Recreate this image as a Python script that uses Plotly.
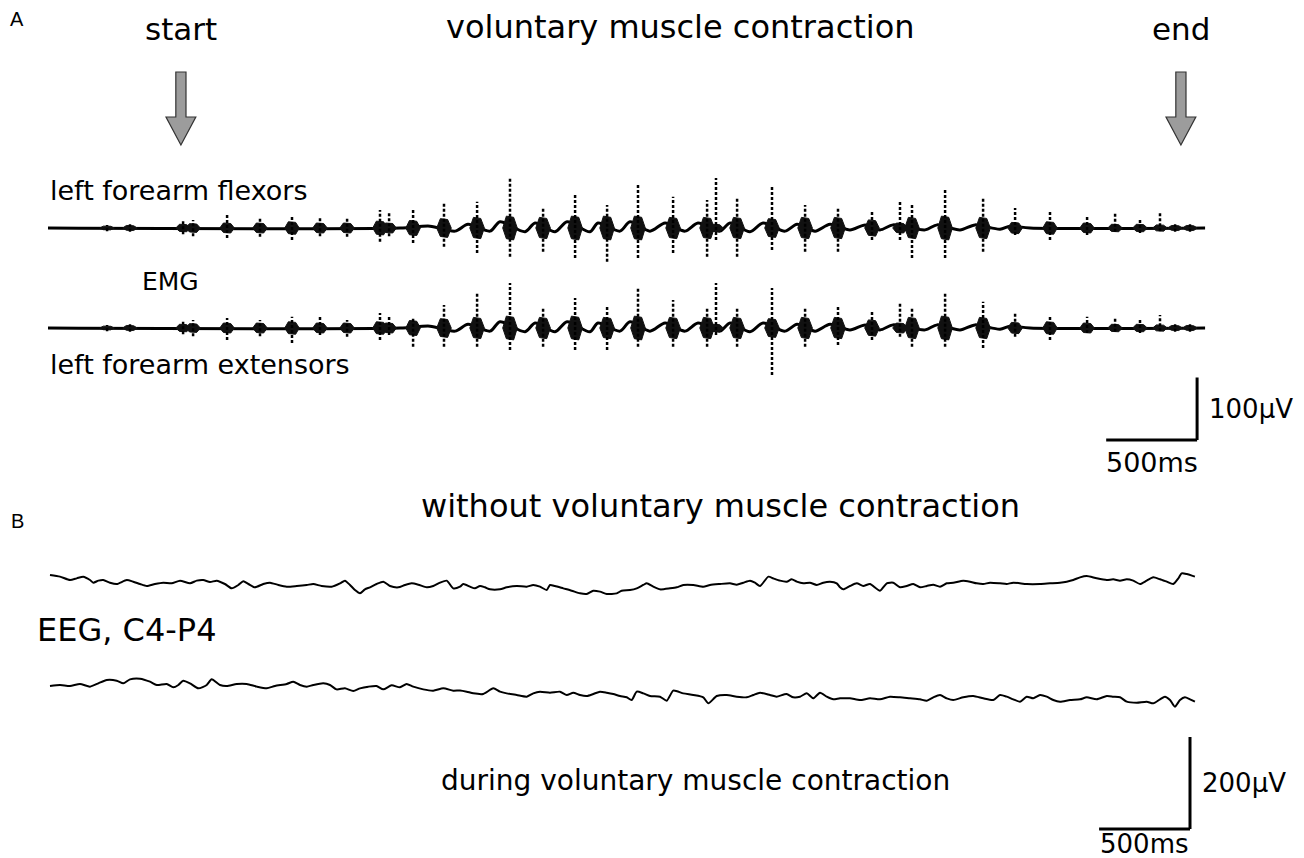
import plotly.graph_objects as go

W, H = 1304, 858
OFF = 8  # page body margin in the browser
FW, FH = W - OFF, H - OFF

# ---------------- data ----------------
# EMG bursts: time (ms) and peak extents (µV) relative to baseline
burst_t = [325, 451, 743, 798, 985, 1166, 1342, 1496, 1645, 1826, 1876, 2008, 2178, 2360,
           2541, 2723, 2899, 3075, 3245, 3438, 3625, 3674, 3790, 3982, 4164, 4345, 4532,
           4686, 4752, 4934, 5143, 5319, 5511, 5715, 5869, 6006, 6116, 6199, 6281]
flex_up = [5, 6, 11, 13, 21, 18, 18, 18, 18, 29, 26, 32, 40, 42, 80, 34, 53, 37, 69, 50,
           45, 80, 48, 69, 37, 34, 29, 45, 37, 64, 48, 32, 26, 21, 24, 16, 24, 6, 6]
flex_down = [-5, -6, -10, -13, -16, -14, -19, -13, -14, -22, -13, -24, -30, -40, -46, -38,
             -48, -54, -48, -40, -46, -19, -46, -35, -38, -38, -19, -19, -48, -48, -38, -11,
             -19, -11, -6, -8, -5, -6, -6]
flex_core = [3, 4, 6, 7, 8, 8, 10, 8, 8, 11, 8, 12, 15, 17, 19, 17, 19, 19, 19, 17, 17, 6,
             17, 15, 17, 17, 13, 8, 17, 19, 17, 9, 10, 8, 6, 6, 5, 4, 4]
ext_up = [5, 6, 10, 13, 16, 13, 18, 18, 13, 24, 21, 18, 37, 56, 72, 34, 48, 34, 64, 45,
          34, 72, 34, 64, 32, 34, 26, 40, 34, 56, 42, 26, 21, 18, 18, 13, 21, 6, 6]
ext_down = [-5, -6, -10, -13, -19, -13, -24, -11, -14, -19, -11, -30, -30, -30, -35, -30,
            -35, -35, -30, -30, -30, -11, -30, -75, -30, -27, -19, -14, -30, -30, -32, -14,
            -19, -8, -6, -8, -5, -6, -6]
ext_core = [3, 4, 6, 7, 8, 8, 10, 8, 8, 10, 8, 12, 15, 17, 19, 17, 19, 17, 19, 17, 17, 6,
            17, 15, 17, 17, 13, 8, 17, 19, 17, 9, 10, 8, 6, 6, 5, 4, 4]

# EMG slow baseline wave (ms, µV)
wave_t = [0, 1936, 2101, 2239, 2310, 2431, 2486, 2624, 2679, 2789, 2855, 2981, 3025, 3146,
          3201, 3311, 3394, 3504, 3575, 3696, 3751, 3861, 3933, 4054, 4120, 4219, 4301,
          4411, 4494, 4576, 4648, 4824, 4890, 5016, 5099, 5236, 5291, 5401, 6364]
wave_v = [0, 0, 3, -5, 6, -5, 10, -6, 8, -6, 10, -6, 8, -5, 10, -5, 8, -5, 8, -5, 8, -6,
          8, -5, 6, -5, 6, -3, 5, -3, 5, -3, 5, -3, 5, -2, 3, 0, 0]

# EEG C4-P4 without voluntary contraction (ms, µV)
eeg_rest_t = [11, 66, 121, 158, 194, 231, 249, 277, 304, 341, 378, 433, 469, 506, 543, 588,
              634, 680, 726, 781, 818, 854, 891, 928, 973, 1010, 1047, 1074, 1102, 1138,
              1184, 1221, 1267, 1313, 1368, 1423, 1459, 1505, 1560, 1606, 1633, 1661, 1688,
              1716, 1743, 1771, 1807, 1844, 1881, 1927, 1963, 2000, 2037, 2083, 2119, 2156,
              2193, 2229, 2266, 2284, 2321, 2348, 2376, 2403, 2431, 2486, 2523, 2578, 2633,
              2669, 2706, 2743, 2761, 2788, 2834, 2880, 2926, 2963, 2999, 3036, 3073, 3128,
              3155, 3201, 3238, 3274, 3293, 3329, 3366, 3421, 3458, 3494, 3549, 3604, 3641,
              3696, 3751, 3788, 3824, 3861, 3888, 3916, 3962, 3989, 4026, 4063, 4090, 4118,
              4154, 4191, 4228, 4264, 4301, 4338, 4356, 4374, 4411, 4448, 4484, 4521, 4576,
              4613, 4649, 4686, 4723, 4759, 4796, 4833, 4869, 4906, 4943, 4979, 5034, 5071,
              5108, 5144, 5181, 5236, 5273, 5309, 5383, 5456, 5511, 5566, 5603, 5639, 5676,
              5713, 5768, 5823, 5859, 5896, 5933, 5969, 6006, 6043, 6079, 6116, 6153, 6189,
              6217, 6235, 6263, 6308]
eeg_rest_v = [17.4, 13.8, 6.5, 10.1, 13.8, 6.5, 0.7, 5.1, 6.5, 0.7, -2.2, 6.5, 2.9, -2.2,
              -6.5, -2.2, 0.7, -0.7, 5.1, -0.7, 5.1, 6.5, 2.2, 5.1, -2.2, -11.6, -4.3, 3.6,
              -2.2, -9.4, -2.2, 0.7, -4.3, -8.0, -6.5, -4.3, -2.2, -6.5, -8.0, -0.7, 5.1,
              -4.3, -15.2, -22.5, -13.8, -9.4, -2.2, 2.9, -6.5, -9.4, -4.3, -0.7, -3.6, -9.4,
              -6.5, 0.7, 5.1, -11.6, -8.0, -2.2, -8.0, -11.6, -6.5, -9.4, -13.8, -13.8, -9.4,
              -6.5, -8.0, -4.3, -8.0, -15.2, -4.3, -6.5, -11.6, -16.7, -22.5, -23.9, -16.7,
              -18.8, -23.9, -22.5, -16.7, -15.2, -11.6, -4.3, -0.7, -8.0, -13.8, -11.6, -9.4,
              -4.3, -4.3, -8.0, -4.3, -2.2, -0.7, -3.6, 0.7, 5.1, 0.7, -6.5, 13.8, 10.1, 5.1,
              2.9, 8.0, 2.9, -0.7, 0.7, -4.3, 0.7, 2.9, -0.7, -9.4, -13.8, -6.5, -0.7, -6.5,
              -2.2, -16.7, -0.7, 0.7, -9.4, -6.5, -2.2, -9.4, -6.5, -3.6, -8.0, -0.7, 0.7,
              5.1, 2.9, -0.7, -2.2, 0.7, -0.7, -2.2, 0.7, -2.2, -2.2, -0.7, 0.7, 2.9, 6.5,
              12.3, 15.2, 10.1, 6.5, 8.0, 5.1, 8.0, 5.1, -2.2, 5.1, 12.3, 8.0, 2.9, -2.2,
              10.1, 21.0, 19.6, 13.8]

# EEG C4-P4 during voluntary contraction (ms, µV)
eeg_task_t = [11, 66, 121, 176, 231, 277, 323, 378, 414, 451, 506, 561, 598, 653, 689, 717,
              744, 781, 827, 873, 900, 946, 983, 1038, 1093, 1148, 1203, 1248, 1313, 1349,
              1386, 1423, 1459, 1514, 1551, 1587, 1633, 1679, 1716, 1762, 1807, 1844, 1890,
              1936, 1972, 2009, 2064, 2119, 2174, 2229, 2266, 2303, 2339, 2394, 2449, 2486,
              2523, 2578, 2633, 2669, 2706, 2761, 2816, 2853, 2889, 2926, 2963, 2999, 3036,
              3073, 3109, 3146, 3183, 3210, 3238, 3274, 3311, 3366, 3403, 3439, 3494, 3549,
              3604, 3632, 3678, 3733, 3788, 3843, 3879, 3916, 3971, 4007, 4062, 4099, 4136,
              4173, 4209, 4246, 4283, 4319, 4356, 4411, 4466, 4521, 4576, 4631, 4686, 4741,
              4796, 4833, 4869, 4906, 4943, 4979, 5034, 5089, 5144, 5199, 5236, 5273, 5309,
              5346, 5383, 5419, 5456, 5493, 5529, 5566, 5621, 5676, 5713, 5768, 5823, 5859,
              5896, 5933, 5988, 6043, 6079, 6116, 6143, 6171, 6198, 6226, 6253, 6281, 6308]
eeg_task_v = [8.7, 10.9, 8.7, 13.1, 7.3, 14.5, 21.8, 20.3, 14.5, 23.2, 24.7, 18.1, 10.9,
              13.1, 5.8, 10.9, 20.3, 14.5, 3.6, 10.9, 23.2, 10.9, 8.7, 13.1, 13.1, 7.3, 3.6,
              8.7, 13.1, 18.1, 10.9, 7.3, 10.9, 14.5, 10.9, 1.4, 3.6, -2.2, 3.6, 7.3, 8.7,
              1.4, 10.1, 5.8, 13.1, 7.3, 1.4, -1.4, 3.6, -1.4, -1.0, -3.6, -7.3, -8.7, 3.6,
              -3.6, -7.3, -10.9, -14.5, -7.3, -3.6, -5.8, -3.6, -10.9, -5.8, -10.9, -13.1,
              -8.7, -3.6, -5.8, -8.7, -13.1, -15.9, -21.8, -3.6, -7.3, -13.1, -14.5, -23.2,
              -1.4, -7.3, -10.9, -15.9, -29.0, -13.1, -10.9, -14.5, -15.9, -10.9, -5.8,
              -10.9, -14.5, -8.7, -15.9, -14.5, -7.3, -18.1, -5.8, -14.5, -20.3, -18.1,
              -18.1, -21.8, -18.1, -20.3, -14.5, -15.9, -18.1, -20.3, -23.2, -15.9, -10.9,
              -18.1, -21.8, -15.9, -13.1, -18.1, -21.8, -10.9, -14.5, -20.3, -25.4, -14.5,
              -18.1, -10.9, -14.5, -21.8, -25.4, -21.8, -20.3, -15.9, -20.3, -13.1, -14.5,
              -15.9, -25.4, -27.6, -25.4, -29.0, -20.3, -14.5, -21.8, -36.3, -21.8, -15.9,
              -20.3, -25.4]

event_labels = ["start", "end"]
event_t = [731, 6231]

emg_bar_uv, eeg_bar_uv, bar_ms = 100, 200, 500

# ---------------- geometry (layout only) ----------------
MS_PER_PX = 5.5
X0_PX = 48                       # screen px of t = 0
x_range = [(OFF - X0_PX) * MS_PER_PX, (W - X0_PX) * MS_PER_PX]

SPLIT_PX = 470
EMG_UV_PER_PX = 1.6
EEG_UV_PER_PX = 2.174
EMG_BASE_PX = 228
EEG_BASE_PX = 583
y1_range = [(EMG_BASE_PX - SPLIT_PX) * EMG_UV_PER_PX, (EMG_BASE_PX - OFF) * EMG_UV_PER_PX]
y2_range = [(EEG_BASE_PX - H) * EEG_UV_PER_PX, (EEG_BASE_PX - SPLIT_PX) * EEG_UV_PER_PX]
ext_offset = -100 * EMG_UV_PER_PX
task_offset = -107 * EEG_UV_PER_PX


def px(xp, yp):
    return (xp - OFF) / FW, 1 - (yp - OFF) / FH


fig = go.Figure()
BURST_W = 80


def emg_traces(offset, up, down, core):
    fig.add_trace(go.Scatter(x=wave_t, y=[v + offset for v in wave_v], mode="lines",
                             line=dict(color="black", width=3, shape="spline", smoothing=0.8),
                             hoverinfo="skip", showlegend=False, xaxis="x", yaxis="y"))
    cx, cy = [], []
    for t, c in zip(burst_t, core):
        a, b = BURST_W / 2, BURST_W / 4
        cx += [t - a, t - b, t + b, t + a, t + b, t - b, t - a, None]
        cy += [offset, offset + c, offset + c * 0.9, offset, offset - c, offset - c * 0.9, offset, None]
    fig.add_trace(go.Scatter(x=cx, y=cy, mode="lines", fill="toself", fillcolor="#111",
                             line=dict(color="#111", width=1), hoverinfo="skip",
                             showlegend=False, xaxis="x", yaxis="y"))
    sx, sy = [], []
    for t, u, d in zip(burst_t, up, down):
        sx += [t, t, None]
        sy += [offset + d, offset + u, None]
    fig.add_trace(go.Scatter(x=sx, y=sy, mode="lines",
                             line=dict(color="black", width=2.5, dash="3px,2px"),
                             hoverinfo="skip", showlegend=False, xaxis="x", yaxis="y"))


emg_traces(0, flex_up, flex_down, flex_core)
emg_traces(ext_offset, ext_up, ext_down, ext_core)

fig.add_trace(go.Scatter(x=eeg_rest_t, y=eeg_rest_v, mode="lines",
                         line=dict(color="black", width=2, shape="spline", smoothing=0.6),
                         hoverinfo="skip", showlegend=False, xaxis="x", yaxis="y2"))
fig.add_trace(go.Scatter(x=eeg_task_t, y=[v + task_offset for v in eeg_task_v], mode="lines",
                         line=dict(color="black", width=2, shape="spline", smoothing=0.6),
                         hoverinfo="skip", showlegend=False, xaxis="x", yaxis="y2"))

shapes = []
emg_bar_x = 6320
emg_bar_y0 = (EMG_BASE_PX - 440) * EMG_UV_PER_PX
shapes.append(dict(type="line", xref="x", yref="y", x0=emg_bar_x, x1=emg_bar_x,
                   y0=emg_bar_y0, y1=emg_bar_y0 + emg_bar_uv, line=dict(color="black", width=3)))
shapes.append(dict(type="line", xref="x", yref="y", x0=emg_bar_x - bar_ms, x1=emg_bar_x,
                   y0=emg_bar_y0, y1=emg_bar_y0, line=dict(color="black", width=3)))
eeg_bar_x = 6281
eeg_bar_y0 = (EEG_BASE_PX - 829) * EEG_UV_PER_PX
shapes.append(dict(type="line", xref="x", yref="y2", x0=eeg_bar_x, x1=eeg_bar_x,
                   y0=eeg_bar_y0, y1=eeg_bar_y0 + eeg_bar_uv, line=dict(color="black", width=3)))
shapes.append(dict(type="line", xref="x", yref="y2", x0=eeg_bar_x - bar_ms, x1=eeg_bar_x,
                   y0=eeg_bar_y0, y1=eeg_bar_y0, line=dict(color="black", width=3)))

for t in event_t:
    ys = [px(0, 72)[1], px(0, 117)[1], px(0, 145)[1]]
    sw, hw = 28, 82
    path = (f"M {t - sw},{ys[0]} L {t + sw},{ys[0]} L {t + sw},{ys[1]} L {t + hw},{ys[1]} "
            f"L {t},{ys[2]} L {t - hw},{ys[1]} L {t - sw},{ys[1]} Z")
    shapes.append(dict(type="path", xref="x", yref="paper", path=path,
                       fillcolor="#9c9c9c", line=dict(color="#333", width=1.2)))

FONT = "DejaVu Sans"
ann = []


def text(s, xp, yp, size, xanchor="center", family=FONT):
    x, y = px(xp, yp)
    ann.append(dict(text=s, x=x, y=y, xref="paper", yref="paper", xanchor=xanchor,
                    yanchor="middle", showarrow=False,
                    font=dict(family=family, size=size, color="black")))


text("A", 17, 19, 20, family="Liberation Sans")
text("B", 17, 521, 20, family="Liberation Sans")
for lab, t in zip(event_labels, event_t):
    text(lab, t / MS_PER_PX + X0_PX, 29, 31)
text("voluntary muscle contraction", 680, 27, 32)
text("left forearm flexors", 48, 190, 27, xanchor="left")
text("EMG", 170, 282, 25)
text("left forearm extensors", 48, 365, 27, xanchor="left")
text("without voluntary muscle contraction", 720, 506, 32)
text("EEG, C4-P4", 35, 630, 32, xanchor="left")
text("during voluntary muscle contraction", 695, 780, 28)

ann.append(dict(text=f"{emg_bar_uv}µV", x=emg_bar_x, y=emg_bar_y0 + emg_bar_uv / 2, xref="x", yref="y",
                xanchor="left", yanchor="middle", xshift=10, showarrow=False,
                font=dict(family=FONT, size=26, color="black")))
ann.append(dict(text=f"{bar_ms}ms", x=emg_bar_x - bar_ms / 2, y=emg_bar_y0, xref="x", yref="y",
                xanchor="center", yanchor="top", yshift=-5, showarrow=False,
                font=dict(family=FONT, size=27, color="black")))
ann.append(dict(text=f"{eeg_bar_uv}µV", x=eeg_bar_x, y=eeg_bar_y0 + eeg_bar_uv / 2, xref="x", yref="y2",
                xanchor="left", yanchor="middle", xshift=10, showarrow=False,
                font=dict(family=FONT, size=26, color="black")))
ann.append(dict(text=f"{bar_ms}ms", x=eeg_bar_x - bar_ms / 2, y=0, xref="x", yref="paper",
                xanchor="center", yanchor="bottom", yshift=-3, showarrow=False,
                font=dict(family=FONT, size=26, color="black")))

split = 1 - (SPLIT_PX - OFF) / FH
fig.update_layout(
    width=FW, height=FH, margin=dict(l=0, r=0, t=0, b=0),
    paper_bgcolor="white", plot_bgcolor="white",
    xaxis=dict(range=x_range, visible=False, fixedrange=True),
    yaxis=dict(range=y1_range, domain=[split, 1], visible=False, fixedrange=True),
    yaxis2=dict(range=y2_range, domain=[0, split], visible=False, fixedrange=True, anchor="x"),
    shapes=shapes, annotations=ann, showlegend=False,
)

fig.write_html("out.html")
